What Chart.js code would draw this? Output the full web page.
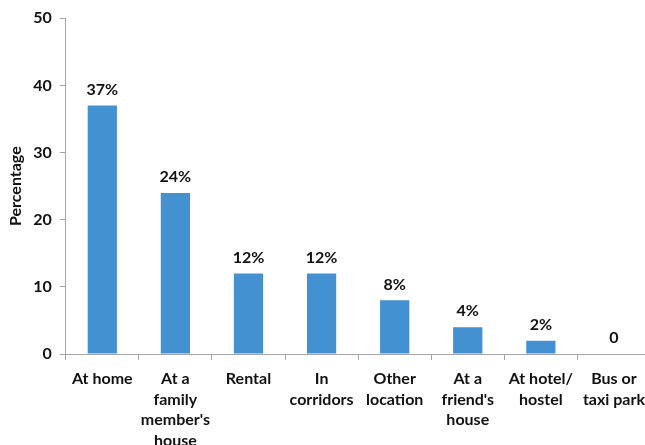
<!DOCTYPE html>
<html>
<head>
<meta charset="utf-8">
<script src="https://cdn.jsdelivr.net/npm/chart.js@4"></script>
<style>
  html, body { margin: 0; padding: 0; background: #fff; overflow: hidden; }
  #wrap { width: 654px; height: 460px; }
</style>
</head>
<body>
<div id="wrap"><canvas id="placeChart"></canvas></div>
<script>
const places = [
  ['At home'],
  ['At a', 'family', "member's", 'house'],
  ['Rental'],
  ['In', 'corridors'],
  ['Other', 'location'],
  ['At a', "friend's", 'house'],
  ['At hotel/', 'hostel'],
  ['Bus or', 'taxi park']
];
const percent = [37, 24, 12, 12, 8, 4, 2, 0];
const yTicks = [0, 10, 20, 30, 40, 50];

const axisGrey = '#a6a6a6';
const family = 'Lato, "Liberation Sans", sans-serif';
const font = { family: family, size: 16, weight: 'bold', lineHeight: 1.28 };

// value labels above each bar, "0" when there is nothing to show
const barLabels = {
  id: 'barLabels',
  afterDatasetsDraw(chart) {
    const ctx = chart.ctx;
    const meta = chart.getDatasetMeta(0);
    ctx.save();
    ctx.font = 'bold 16px ' + family;
    ctx.fillStyle = '#111';
    ctx.textAlign = 'center';
    ctx.textBaseline = 'bottom';
    meta.data.forEach((bar, i) => {
      const v = percent[i];
      const text = v > 0 ? v + '%' : '0';
      ctx.fillText(text, bar.x, bar.y - 8);
    });
    ctx.restore();
  }
};

new Chart(document.getElementById('placeChart'), {
  type: 'bar',
  data: {
    labels: places,
    datasets: [{
      data: percent,
      backgroundColor: '#4391d0',
      borderWidth: 0,
      barPercentage: 0.8,
      categoryPercentage: 0.5
    }]
  },
  options: {
    responsive: true,
    maintainAspectRatio: false,
    animation: false,
    layout: { padding: { top: 12, left: 0, right: 0, bottom: 0 } },
    plugins: { legend: { display: false }, tooltip: { enabled: false } },
    scales: {
      x: {
        grid: { display: true, drawOnChartArea: false, color: axisGrey, tickLength: 6, offset: true },
        border: { color: axisGrey, width: 1 },
        ticks: { color: '#111', font: font, padding: 9, maxRotation: 0, autoSkip: false }
      },
      y: {
        min: 0,
        max: 50,
        afterBuildTicks(axis) { axis.ticks = yTicks.map(v => ({ value: v })); },
        grid: { display: true, drawOnChartArea: false, color: axisGrey, tickLength: 6 },
        border: { color: axisGrey, width: 1 },
        ticks: { color: '#111', font: font, padding: 8 },
        title: { display: true, text: 'Percentage', color: '#111', font: { family: family, size: 16, weight: 'bold' }, padding: { top: 6, bottom: 0 } }
      }
    }
  },
  plugins: [barLabels]
});
</script>
</body>
</html>
